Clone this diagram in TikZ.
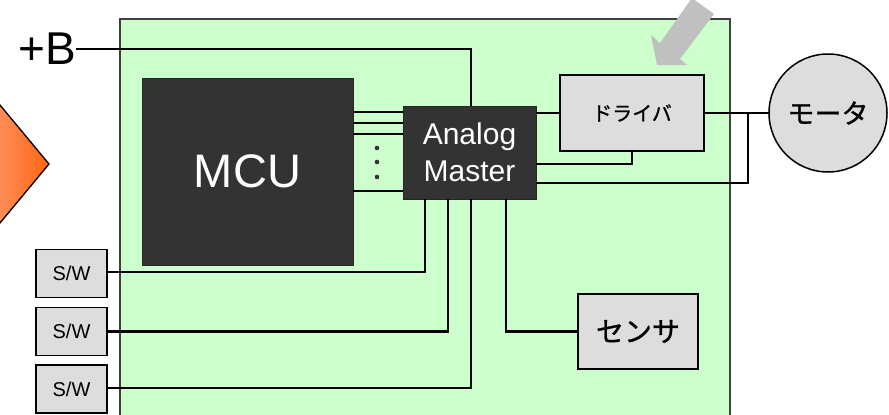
\documentclass[tikz,border=0pt]{standalone}
\usepackage{fontspec}
\setmainfont{Liberation Sans}
\newfontfamily\jp[RawFeature={embolden=1}]{Noto Sans CJK JP}
\definecolor{board}{HTML}{CCFFCC}
\definecolor{boxgray}{HTML}{DDDDDD}
\definecolor{dark}{HTML}{333333}
\definecolor{arrowgray}{HTML}{C0C0C0}
\definecolor{orlight}{HTML}{FF9466}
\definecolor{ordark}{HTML}{FF6611}
\tikzset{
  wire/.style={line width=2.9pt, line join=miter},
  graybox/.style={draw=black, line width=1.8pt, fill=boxgray, inner sep=0pt, outer sep=0pt},
  darkbox/.style={draw=black!85, line width=1pt, fill=dark, text=white, inner sep=0pt, outer sep=0pt, align=center},
  swbox/.style={graybox, minimum width=71pt, minimum height=48pt, font=\fontsize{20}{22}\selectfont},
}
\begin{document}
\begin{tikzpicture}[x=1pt, y=-1pt]
\useasboundingbox (0,0) rectangle (889,415);
\clip (0,0) rectangle (889,415);
% board
\path[fill=board, draw=black!75, line width=1.4pt] (120,19) rectangle (730,440);
% orange arrow
\path[left color=orlight, right color=ordark, draw=black, line width=1.3pt]
  (-10,93) -- (49,164) -- (-10,235) -- cycle;
% gray arrow
\path[fill=arrowgray] (692,-2) -- (714,14) -- (680,59) -- (687,65) -- (657,65) -- (651,35) -- (660,43) -- cycle;
% nodes
\node[darkbox, minimum width=211pt, minimum height=187pt, font=\fontsize{47}{50}\selectfont] (mcu) at (247.5,171.5) {MCU};
\node[darkbox, minimum width=133pt, minimum height=93pt, font=\fontsize{30}{37}\selectfont] (am) at (469.5,152.5) {Analog\\Master};
\node[graybox, minimum width=144pt, minimum height=76pt, font=\jp\fontsize{20}{22}\selectfont] (drv) at (632,113) {ドライバ};
\node[graybox, circle, minimum size=118pt, line width=1.5pt, font=\jp\fontsize{27}{30}\selectfont] (mot) at (828,113) {モータ};
\node[graybox, minimum width=120pt, minimum height=75pt, font=\jp\fontsize{28}{30}\selectfont] (sen) at (638,331.5) {センサ};
\node[swbox] (sw1) at (71.5,273.5) {S/W};
\node[swbox] (sw2) at (71.5,331.5) {S/W};
\node[swbox] (sw3) at (71.5,389) {S/W};
\node[anchor=east, inner sep=0pt, font=\fontsize{46}{50}\selectfont] (bplus) at (76,49) {+B};
\coordinate (j) at (748,113);
% wires
\draw[wire] (bplus.east) -| ([xshift=1.5pt]am.north);
\foreach \yy in {112,123,134,191}
  \draw[wire] (mcu.east |- 0,\yy) -- (am.west |- 0,\yy);
\foreach \yy in {148,162,177}
  \fill[dark] (377,\yy) circle (2.3pt);
\draw[wire] (am.east |- drv.west) -- (drv.west);
\draw[wire] (drv.south) |- (am.east |- 0,164);
\draw[wire] (drv.east) -- (mot.west);
\draw[wire] (am.east |- 0,183) -| (j);
\draw[wire] (sw1.east |- 0,272) -| (am.south -| 425,0);
\draw[wire] (sw2.east) -| (am.south -| 448,0);
\draw[wire] (sw3.east |- 0,388) -| (am.south -| 471,0);
\draw[wire] (sen.west) -| (am.south -| 506,0);
\end{tikzpicture}
\end{document}
